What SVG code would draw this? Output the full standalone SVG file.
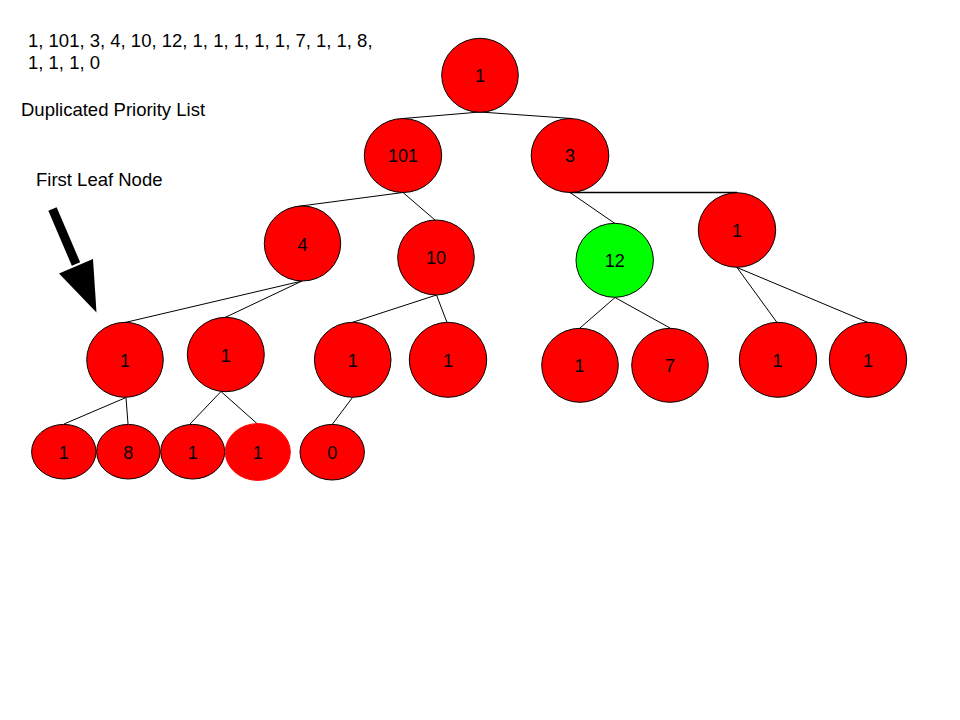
<svg xmlns="http://www.w3.org/2000/svg" width="960" height="720" viewBox="0 0 960 720">
<style>
.n ellipse{fill:#ff0000;stroke:#000;stroke-width:1}
.n text,.t{font-family:"Liberation Sans",Arial,sans-serif;font-size:18px;fill:#000}
.n text{text-anchor:middle}
.t{font-size:18.5px}
.c line{stroke:#000;stroke-width:1}
</style>
<rect width="960" height="720" fill="#fff"/>
<g id="labels">
<text class="t" x="28" y="47">1, 101, 3, 4, 10, 12, 1, 1, 1, 1, 1, 7, 1, 1, 8,</text>
<text class="t" x="28" y="68.5">1, 1, 1, 0</text>
<text class="t" x="21" y="116">Duplicated Priority List</text>
<text class="t" x="36" y="185.5">First Leaf Node</text>
</g>
<g id="pointer">
<line x1="52.5" y1="209" x2="76" y2="264" stroke="#000" stroke-width="9"/>
<polygon points="59,273.5 93,259 96.5,312.5" fill="#000"/>
</g>
<g class="c" id="connectors">
<line x1="480" y1="112" x2="403" y2="118.5"/>
<line x1="480" y1="112" x2="572" y2="118.5"/>
<line x1="403" y1="192.5" x2="297" y2="206.5"/>
<line x1="403" y1="192.5" x2="435.5" y2="220.5"/>
<line x1="570" y1="192.5" x2="615" y2="223.5"/>
<line x1="570" y1="192.5" x2="737" y2="192.5" style="stroke-width:1.5"/>
<line x1="302" y1="281" x2="125" y2="322.5"/>
<line x1="302" y1="281" x2="225" y2="317.5"/>
<line x1="436.5" y1="295" x2="352" y2="322.5"/>
<line x1="436.5" y1="295" x2="447" y2="322.5"/>
<line x1="615" y1="297.5" x2="580" y2="328"/>
<line x1="615" y1="297.5" x2="670" y2="328"/>
<line x1="737" y1="267.5" x2="777" y2="322.5"/>
<line x1="737" y1="267.5" x2="868" y2="322.5"/>
<line x1="126" y1="397.5" x2="64" y2="424"/>
<line x1="126" y1="397.5" x2="128" y2="424"/>
<line x1="221" y1="391.5" x2="190" y2="424"/>
<line x1="221" y1="391.5" x2="257.5" y2="424"/>
<line x1="352.5" y1="397.5" x2="332.5" y2="424"/>
</g>
<g class="n" id="n-root"><ellipse cx="480" cy="75.3" rx="38.3" ry="37"/><text x="480" y="82.3">1</text></g>
<g class="n" id="n-101"><ellipse cx="403" cy="155.5" rx="38.7" ry="37"/><text x="403" y="162.3">101</text></g>
<g class="n" id="n-3"><ellipse cx="570" cy="155.5" rx="38.8" ry="37"/><text x="570" y="162.3">3</text></g>
<g class="n" id="n-4"><ellipse cx="302.5" cy="243.5" rx="38.2" ry="37.5"/><text x="302.5" y="251">4</text></g>
<g class="n" id="n-10"><ellipse cx="436" cy="257.5" rx="38.3" ry="37.5"/><text x="436" y="264.3">10</text></g>
<g class="n" id="n-12"><ellipse cx="614.7" cy="260.3" rx="38.7" ry="37" style="fill:#00ff00"/><text x="614.7" y="267.3">12</text></g>
<g class="n" id="n-1r"><ellipse cx="737" cy="230" rx="38.7" ry="37.3"/><text x="737" y="236.8">1</text></g>
<g class="n" id="n-l3a"><ellipse cx="125" cy="359.8" rx="38.3" ry="37.5"/><text x="125" y="366.7">1</text></g>
<g class="n" id="n-l3b"><ellipse cx="225.8" cy="354.5" rx="38.5" ry="37.2"/><text x="225.8" y="361.7">1</text></g>
<g class="n" id="n-l3c"><ellipse cx="352.7" cy="359.8" rx="38.3" ry="37.5"/><text x="352.7" y="366.7">1</text></g>
<g class="n" id="n-l3d"><ellipse cx="448" cy="359.8" rx="38.7" ry="37.5"/><text x="448" y="366.7">1</text></g>
<g class="n" id="n-l3e"><ellipse cx="580" cy="365.3" rx="38.3" ry="37"/><text x="579.5" y="372.3">1</text></g>
<g class="n" id="n-l3f"><ellipse cx="670" cy="365.3" rx="38.3" ry="37"/><text x="670" y="372.3">7</text></g>
<g class="n" id="n-l3g"><ellipse cx="778" cy="359.8" rx="38.7" ry="37.5"/><text x="777.5" y="366.7">1</text></g>
<g class="n" id="n-l3h"><ellipse cx="868" cy="359.8" rx="38.7" ry="37.5"/><text x="868" y="366.7">1</text></g>
<g class="n" id="n-l4a"><ellipse cx="63.8" cy="451.7" rx="32.2" ry="27.3"/><text x="63.8" y="459">1</text></g>
<g class="n" id="n-l4b"><ellipse cx="128.3" cy="451.7" rx="31.7" ry="27.3"/><text x="128.3" y="459">8</text></g>
<g class="n" id="n-l4c"><ellipse cx="192.7" cy="451.7" rx="32" ry="27.3"/><text x="192.7" y="459">1</text></g>
<g class="n" id="n-l4d"><ellipse cx="257.8" cy="452" rx="32.5" ry="28.4" style="stroke:#ff0000"/><text x="257.8" y="459">1</text></g>
<g class="n" id="n-l4e"><ellipse cx="332.2" cy="452.2" rx="32.2" ry="27.8"/><text x="332.2" y="459.3">0</text></g>
</svg>
